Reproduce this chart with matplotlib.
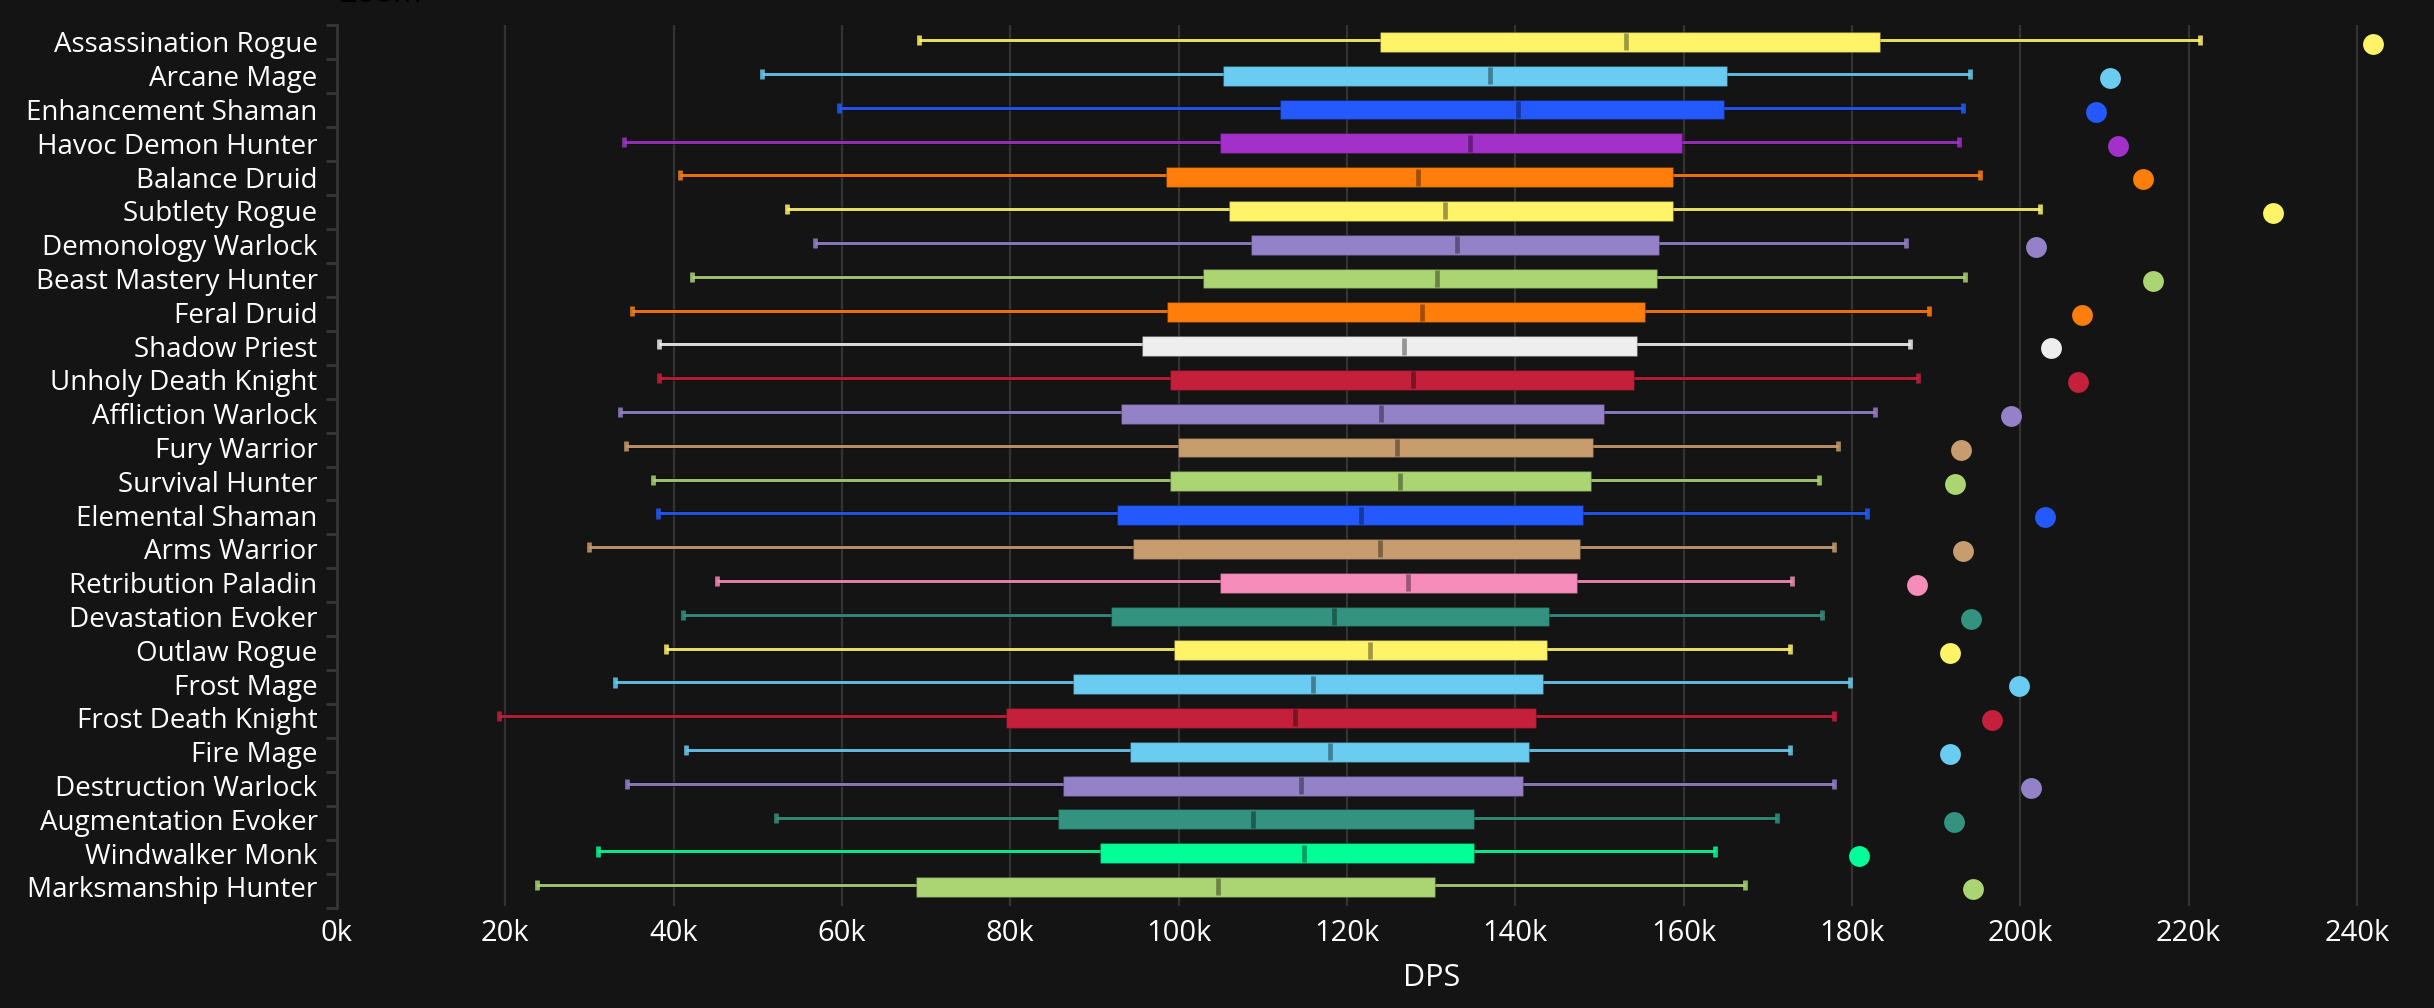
import matplotlib.pyplot as plt

specs = ["Assassination Rogue","Arcane Mage","Enhancement Shaman","Havoc Demon Hunter","Balance Druid","Subtlety Rogue","Demonology Warlock","Beast Mastery Hunter","Feral Druid","Shadow Priest","Unholy Death Knight","Affliction Warlock","Fury Warrior","Survival Hunter","Elemental Shaman","Arms Warrior","Retribution Paladin","Devastation Evoker","Outlaw Rogue","Frost Mage","Frost Death Knight","Fire Mage","Destruction Warlock","Augmentation Evoker","Windwalker Monk","Marksmanship Hunter"]
low = [69.1,50.5,59.7,34.1,40.7,53.5,56.8,42.2,35.1,38.3,38.3,33.6,34.3,37.6,38.2,29.9,45.2,41.1,39.1,33.0,19.2,41.5,34.5,52.2,31.0,23.8]
q1 = [123.9,105.3,112.1,104.9,98.5,106.0,108.6,102.9,98.6,95.7,99.0,93.1,99.9,99.0,92.7,94.6,104.9,92.0,99.4,87.4,79.5,94.2,86.3,85.7,90.7,68.8]
median = [153.2,137.0,140.3,134.6,128.5,131.6,133.1,130.7,128.9,126.8,127.8,124.1,125.9,126.3,121.7,123.9,127.2,118.5,122.8,116.0,113.8,118.0,114.5,108.8,114.9,104.7]
q3 = [183.3,165.2,164.8,159.8,158.7,158.7,157.1,156.9,155.4,154.5,154.1,150.6,149.2,149.0,148.0,147.7,147.3,144.0,143.8,143.3,142.5,141.6,140.9,135.1,135.1,130.5]
high = [221.4,194.0,193.2,192.7,195.2,202.4,186.4,193.4,189.2,186.9,187.9,182.7,178.3,176.1,181.8,177.9,172.9,176.4,172.6,179.8,177.9,172.6,177.9,171.1,163.7,167.3]
top = [241.9,210.7,209.0,211.6,214.6,230.0,201.9,215.8,207.4,203.7,206.9,198.9,193.0,192.3,203.0,193.2,187.7,194.1,191.7,199.9,196.7,191.7,201.3,192.1,180.9,194.4]
colors = ["#FFF468","#69CCF0","#2459FF","#A330C9","#FF7D0A","#FFF468","#9482C9","#ABD473","#FF7D0A","#EEEEEE","#C41F3B","#9482C9","#C79C6E","#ABD473","#2459FF","#C79C6E","#F58CBA","#33937F","#FFF468","#69CCF0","#C41F3B","#69CCF0","#9482C9","#33937F","#00FF96","#ABD473"]
xticks = [0,20,40,60,80,100,120,140,160,180,200,220,240]

plt.rcParams["font.family"] = "Open Sans"
plt.figure(figsize=(24.34,10.08),dpi=100,facecolor="#141414")
ax = plt.axes([337/2434,100/1008,2088/2434,883/1008],facecolor="#141414")

# grid under the boxes
plt.vlines(xticks[1:],-0.5,25.55,color="#333333",linewidth=1.6,zorder=1)

for i in range(len(specs)):
    c = colors[i]
    plt.plot([low[i],high[i]],[i-0.05,i-0.05],color="#00000055",linewidth=3.6,zorder=2,solid_capstyle="butt")
    plt.plot([low[i],high[i]],[i-0.05,i-0.05],color=c,linewidth=2.2,alpha=0.9,zorder=2.1,solid_capstyle="butt")
    plt.plot([low[i],low[i]],[i-0.2,i+0.1],color=c,linewidth=3.4,alpha=0.85,zorder=2.2,solid_capstyle="butt") # caps
    plt.plot([high[i],high[i]],[i-0.2,i+0.1],color=c,linewidth=3.4,alpha=0.85,zorder=2.2,solid_capstyle="butt")
    plt.barh(i,q3[i]-q1[i],left=q1[i],height=0.59,color=c,edgecolor="#00000030",linewidth=1,zorder=3)
    plt.plot([median[i],median[i]],[i-0.25,i+0.25],color="#00000060",linewidth=3.4,zorder=4,solid_capstyle="butt")
    plt.scatter(top[i],i+0.07,s=225,color=c,linewidths=0,zorder=5,clip_on=False)

plt.xlim(0,248.1)
plt.ylim(25.62,-0.5)
plt.yticks(range(len(specs)),specs,color="white",fontsize=20)
plt.xticks(xticks,[str(v)+"k" for v in xticks],color="white",fontsize=21)
ax.set_yticks([v*33.96/33.8-0.5 for v in range(len(specs)+1)],minor=True)
ax.tick_params(axis="y",which="minor",length=8,width=2,color="#363636")
ax.tick_params(axis="y",which="major",length=0,pad=14)
ax.tick_params(axis="x",length=0,pad=8)
plt.xlabel("DPS",color="white",fontsize=22,labelpad=11,x=(1432-337)/2088)
for s in ["top","right","bottom"]:
    ax.spines[s].set_visible(False)
ax.spines["left"].set_color("#363636")
ax.spines["left"].set_linewidth(2)

plt.figtext(340/2434,1-2/1008,"Zoom",color="black",fontsize=22,va="baseline")

plt.savefig("out.png",facecolor="#141414")
